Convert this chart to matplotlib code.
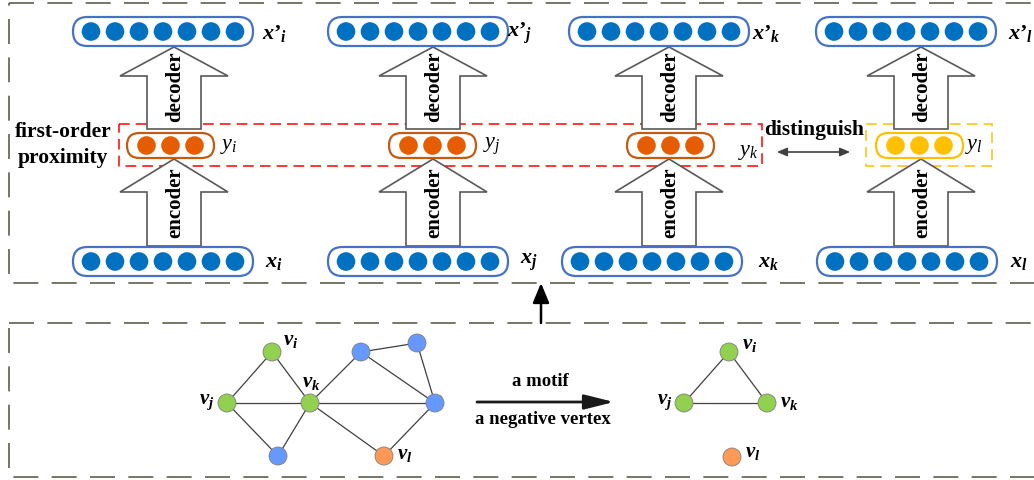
import matplotlib
matplotlib.use("Agg")
import matplotlib.pyplot as plt
from matplotlib.patches import FancyBboxPatch, Circle, Polygon, Rectangle, FancyArrowPatch

plt.rcParams['font.family'] = ['Liberation Serif', 'DejaVu Serif']
plt.rcParams['mathtext.fontset'] = 'custom'
plt.rcParams['mathtext.rm'] = 'Liberation Serif:bold'
plt.rcParams['mathtext.it'] = 'Liberation Serif:italic:bold'
plt.rcParams['mathtext.bf'] = 'Liberation Serif:bold'
plt.rcParams['mathtext.sf'] = 'Liberation Serif:italic'

# Data ----------------------------------------

names = ['i', 'j', 'k', 'l']
top_box_left = [73, 328, 569, 816]
bot_box_left = [73, 328, 562, 817]
arrow_cx = [174, 433, 669, 921]
code_cx = [170, 432, 670, 919]
top_label_x = [262, 507, 752, 1008]
bot_label_x = [265, 520, 758, 1010]
code_label_x = [220, 483, 738, 965]
code_label_y = [146, 146, 153, 147]
n_input = 7
n_code = 3

# graph on the left
node_x = [272, 227, 310, 278, 361, 417, 435, 384]
node_y = [352, 403, 403, 456, 352, 343, 403, 456]
node_kind = ['g', 'g', 'g', 'b', 'b', 'b', 'b', 'o']
edges = [(0, 1), (0, 2), (1, 2), (1, 3), (2, 3), (2, 4), (2, 6), (2, 7),
         (4, 5), (4, 6), (5, 6), (6, 7)]
node_labels = {0: ('i', 283, 340), 1: ('j', 199, 402), 2: ('k', 302, 382), 7: ('l', 397, 455)}

# motif on the right
motif_x = [729, 684, 767, 732]
motif_y = [352, 403, 403, 457]
motif_kind = ['g', 'g', 'g', 'o']
motif_edges = [(0, 1), (0, 2), (1, 2)]
motif_labels = [('i', 742, 345), ('j', 657, 402), ('k', 780, 402), ('l', 745, 452)]

# Colors ----------------------------------------

blue_dot = '#0070C0'
blue_edge = '#4472C4'
orange_dot = '#E65C00'
orange_edge = '#C55A11'
yellow = '#FFC000'
panel_col = '#5E5E4E'
node_col = {'g': '#92D050', 'b': '#6699FF', 'o': '#FF9955'}

# Figure ----------------------------------------

fig = plt.figure(figsize=(10.34, 4.8), dpi=100)
ax = fig.add_axes([0, 0, 1, 1])
ax.set_xlim(0, 1034)
ax.set_ylim(480, 0)
ax.axis('off')

panel_ls = (0, (15, 8))
ax.add_patch(Rectangle((9, 3), 1040, 280, fill=False, ec=panel_col, lw=1.2, ls=panel_ls))
ax.add_patch(Rectangle((9, 323), 1040, 154, fill=False, ec=panel_col, lw=1.2, ls=panel_ls))

# red and yellow dashed frames
ax.add_patch(Rectangle((119, 124), 643, 42, fill=False, ec='#FF0000', lw=1.1, ls=(0, (7, 4)), zorder=1))
ax.add_patch(Rectangle((866, 124), 126, 42, fill=False, ec=yellow, lw=1.1, ls=(0, (7, 4)), zorder=1))


def vector_box(left, top, n, spacing, width, height, edge, dot, r):
    ax.add_patch(FancyBboxPatch((left, top), width, height,
                                boxstyle="round,pad=0,rounding_size=%g" % (height / 2),
                                fc='white', ec=edge, lw=1.6, zorder=3))
    cx = left + width / 2
    for m in range(n):
        ax.add_patch(Circle((cx + (m - (n - 1) / 2) * spacing, top + height / 2), r,
                            fc=dot, ec='none', zorder=4))


def block_arrow(cx, tip, base, bottom):
    pts = [(cx, tip), (cx + 54, base), (cx + 27, base), (cx + 27, bottom),
           (cx - 27, bottom), (cx - 27, base), (cx - 54, base)]
    ax.add_patch(Polygon(pts, closed=True, fc='white', ec='#595959', lw=1.2, zorder=2))


for c in range(4):
    n = names[c]
    block_arrow(arrow_cx[c], 47, 76, 129)
    block_arrow(arrow_cx[c], 159, 192, 246)
    ax.text(arrow_cx[c] + 1, 87, 'decoder', rotation=90, ha='center', va='center',
            fontsize=15, fontweight='bold', zorder=5)
    ax.text(arrow_cx[c] + 1, 203, 'encoder', rotation=90, ha='center', va='center',
            fontsize=15, fontweight='bold', zorder=5)
    vector_box(top_box_left[c], 17, n_input, 24, 180, 29, blue_edge, blue_dot, 9.3)
    vector_box(bot_box_left[c], 247, n_input, 24, 180, 29, blue_edge, blue_dot, 9.3)
    if c < 3:
        vector_box(code_cx[c] - 43, 133, n_code, 24, 87, 25, orange_edge, orange_dot, 9.3)
    else:
        vector_box(code_cx[c] - 43, 133, n_code, 24, 87, 25, yellow, yellow, 9.3)
    ax.text(top_label_x[c], 33, "$x\u2019_{%s}$" % n, ha='left', va='center', fontsize=16)
    ax.text(bot_label_x[c], 262, r"$x_{%s}$" % n, ha='left', va='center', fontsize=16)
    ax.text(code_label_x[c], code_label_y[c], r"$\mathsf{y}_{\mathsf{%s}}$" % n,
            ha='left', va='center', fontsize=16)

ax.text(63, 132, 'first-order', ha='center', va='center', fontsize=15.5, fontweight='bold')
ax.text(63, 158, 'proximity', ha='center', va='center', fontsize=15.5, fontweight='bold')
ax.text(814, 130, 'distinguish', ha='center', va='center', fontsize=15.5, fontweight='bold')
ax.add_patch(FancyArrowPatch((774, 152), (853, 152), arrowstyle='<|-|>,head_length=6,head_width=2.5',
                             color='#404040', lw=1.2, mutation_scale=1))

# arrow between the panels
ax.add_patch(FancyArrowPatch((541, 323), (541, 283), arrowstyle='-|>,head_length=12,head_width=5',
                             color='black', lw=1.8, mutation_scale=1, shrinkA=0, shrinkB=0))

# graph ----------------------------------------

for a, b in edges:
    ax.plot([node_x[a], node_x[b]], [node_y[a], node_y[b]], color='#404040', lw=0.9, zorder=1)
for x, y, k in zip(node_x, node_y, node_kind):
    ax.add_patch(Circle((x, y), 9, fc=node_col[k], ec='#7F7F7F', lw=0.6, zorder=3))
for i, (s, x, y) in node_labels.items():
    ax.text(x, y, r"$v_{%s}$" % s, ha='left', va='center', fontsize=15)

for a, b in motif_edges:
    ax.plot([motif_x[a], motif_x[b]], [motif_y[a], motif_y[b]], color='#404040', lw=0.9, zorder=1)
for x, y, k in zip(motif_x, motif_y, motif_kind):
    ax.add_patch(Circle((x, y), 9, fc=node_col[k], ec='#7F7F7F', lw=0.6, zorder=3))
for s, x, y in motif_labels:
    ax.text(x, y, r"$v_{%s}$" % s, ha='left', va='center', fontsize=15)

ax.add_patch(FancyArrowPatch((477, 402), (614, 402), arrowstyle='-|>,head_length=18,head_width=4.5',
                             color='#1A1A1A', lw=2, mutation_scale=1, shrinkA=0, shrinkB=0))
ax.text(540, 382, 'a motif', ha='center', va='center', fontsize=13.5, fontweight='bold')
ax.text(543, 420, 'a negative vertex', ha='center', va='center', fontsize=13.5, fontweight='bold')

fig.savefig('out.png', dpi=100)
